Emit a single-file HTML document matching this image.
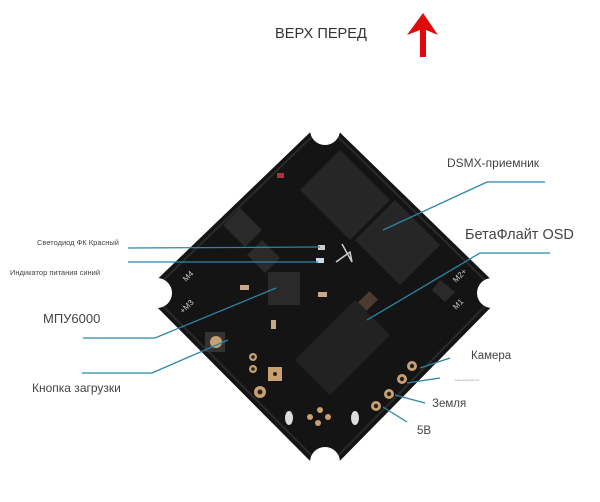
<!DOCTYPE html>
<html><head><meta charset="utf-8"><style>
html,body{margin:0;padding:0;background:#fff;}
svg{display:block;}
text{font-family:"Liberation Sans","DejaVu Sans",sans-serif;fill:#444;}
</style></head><body>
<svg width="600" height="502" viewBox="0 0 600 502" xmlns="http://www.w3.org/2000/svg">
<rect width="600" height="502" fill="#fff"/>
<text x="275" y="38" font-size="14.6" style="fill:#333">ВЕРХ ПЕРЕД</text>
<polygon points="423,13 438,35 426,30 426,57 420,57 420,30 407,35" fill="#e00a0a"/>
<polygon points="325,118 505,293 325,476 143,293" fill="#141414"/>
<polygon points="325,124 498,293 325,469 150,293" fill="none" stroke="#2a2a2a" stroke-width="2"/>
<circle cx="325" cy="130" r="15" fill="#fff"/>
<circle cx="492" cy="293" r="15" fill="#fff"/>
<circle cx="325" cy="462" r="15" fill="#fff"/>
<circle cx="157" cy="293" r="15" fill="#fff"/>
<polygon points="340,150 390,200 350,240 300,190" fill="#262626"/>
<polygon points="395,200 440,245 400,285 355,240" fill="#262626"/>
<polygon points="268,272 300,272 300,305 268,305" fill="#2a2a2a"/>
<polygon points="355,300 390,335 330,395 295,360" fill="#222"/>
<polygon points="240,208 262,230 245,247 223,225" fill="#2a2a2a"/>
<polygon points="262,240 280,258 265,273 247,255" fill="#2a2a2a"/>
<rect x="360" y="295" width="16" height="12" fill="#4a3a30" transform="rotate(-45 368 301)"/>
<polygon points="440,280 455,292 445,302 432,290" fill="#2a2a2a"/>
<rect x="277" y="173" width="7" height="5" fill="#a33" />
<rect x="318" y="245" width="7" height="5" fill="#ccc"/>
<rect x="316" y="258" width="8" height="5" fill="#cde"/>
<rect x="240" y="285" width="9" height="5" fill="#c9a88a"/>
<rect x="318" y="292" width="9" height="5" fill="#c9a88a"/>
<rect x="271" y="320" width="5" height="9" fill="#c9a88a"/>
<polyline points="342,244 352,262 350,252 336,262" fill="none" stroke="#ccc" stroke-width="1.5"/>
<rect x="205" y="332" width="20" height="20" fill="#333"/>
<circle cx="216" cy="342" r="6" fill="#c9a070"/>
<circle cx="253" cy="357" r="4" fill="#c9a070"/><circle cx="253" cy="357" r="1.8" fill="#222"/>
<circle cx="253" cy="369" r="4" fill="#c9a070"/><circle cx="253" cy="369" r="1.8" fill="#222"/>
<rect x="268" y="367" width="14" height="14" fill="#c9a070"/><circle cx="275" cy="374" r="2" fill="#222"/>
<circle cx="260" cy="392" r="6" fill="#c9a070"/><circle cx="260" cy="392" r="2.5" fill="#222"/>
<circle cx="412" cy="366" r="5" fill="#c9a070"/><circle cx="412" cy="366" r="2.2" fill="#222"/>
<circle cx="402" cy="379" r="5" fill="#c9a070"/><circle cx="402" cy="379" r="2.2" fill="#222"/>
<circle cx="389" cy="394" r="5" fill="#c9a070"/><circle cx="389" cy="394" r="2.2" fill="#222"/>
<circle cx="376" cy="406" r="5" fill="#c9a070"/><circle cx="376" cy="406" r="2.2" fill="#222"/>
<circle cx="310" cy="417" r="3" fill="#c9a070"/><circle cx="320" cy="410" r="3" fill="#c9a070"/>
<circle cx="318" cy="423" r="3" fill="#c9a070"/><circle cx="328" cy="417" r="3" fill="#c9a070"/>
<ellipse cx="289" cy="418" rx="4" ry="7" fill="#ddd"/>
<ellipse cx="355" cy="418" rx="4" ry="7" fill="#ddd"/>
<text x="186" y="282" font-size="8" style="fill:#ccc" transform="rotate(-45 186 282)">M4</text>
<text x="183" y="314" font-size="8" style="fill:#ccc" transform="rotate(-45 183 314)">+M3</text>
<text x="456" y="283" font-size="8" style="fill:#ccc" transform="rotate(-45 456 283)">M2+</text>
<text x="456" y="310" font-size="8" style="fill:#ccc" transform="rotate(-45 456 310)">M1</text>
<g stroke="#2a86a8" stroke-width="1.3" fill="none">
<polyline points="128,248 320,247"/>
<polyline points="128,262 318,262"/>
<polyline points="83,338 155,338 276,288"/>
<polyline points="82,373 152,373 228,340"/>
<polyline points="545,182 487,182 383,230"/>
<polyline points="550,253 480,253 367,320"/>
<polyline points="450,358 420,368"/>
<polyline points="440,378 407,383"/>
<polyline points="425,403 395,395"/>
<polyline points="407,422 383,407"/>
</g>
<text x="37" y="245" font-size="7.5">Светодиод ФК Красный</text>
<text x="10" y="275" font-size="7.5">Индикатор питания синий</text>
<text x="43" y="323" font-size="13">МПУ6000</text>
<text x="32" y="392" font-size="12">Кнопка загрузки</text>
<text x="447" y="167" font-size="12">DSMX-приемник</text>
<text x="465" y="239" font-size="14.5">БетаФлайт OSD</text>
<text x="471" y="359" font-size="11.5">Камера</text>
<text x="455" y="381" font-size="3" style="fill:#999">видеопередатчик</text>
<text x="432" y="407" font-size="11.5">Земля</text>
<text x="417" y="434" font-size="11.5">5В</text>
</svg>
</body></html>
